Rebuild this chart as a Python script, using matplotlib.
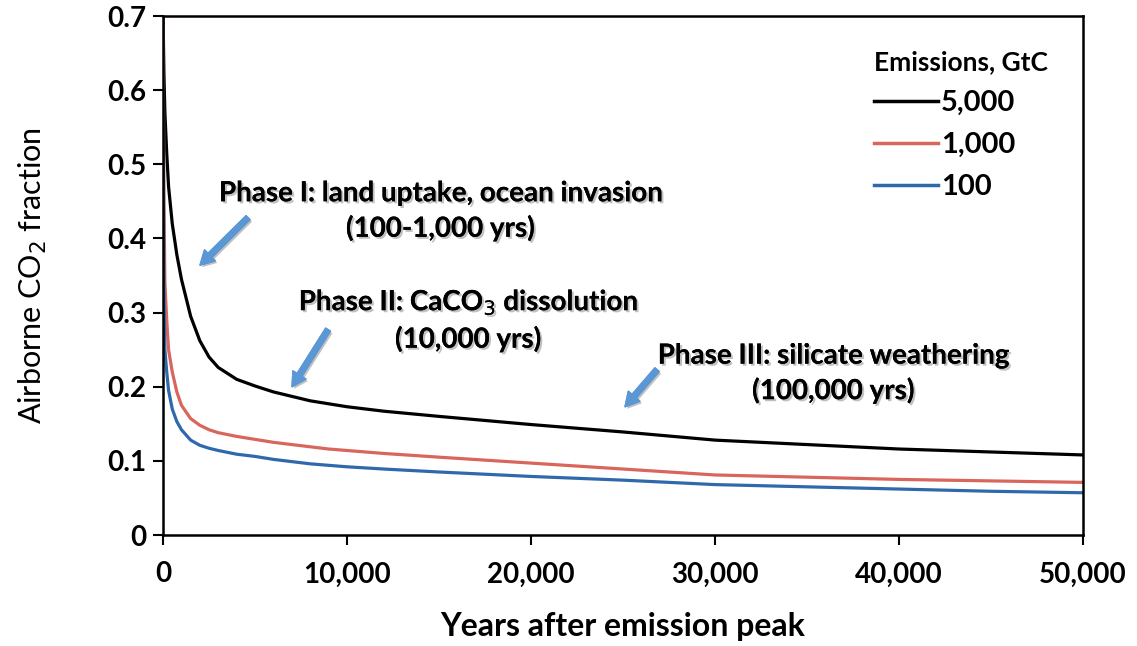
import matplotlib.pyplot as plt
import matplotlib.patheffects as pe

# Airborne fraction of emitted CO2 over time, for three emission totals
years = [0, 50, 100, 200, 300, 500, 750, 1000, 1500, 2000, 2500, 3000, 4000,
         5000, 6000, 7000, 8000, 9000, 10000, 12000, 15000, 20000, 25000,
         30000, 35000, 40000, 45000, 50000]
frac_5000 = [0.70, 0.62, 0.57, 0.515, 0.47, 0.42, 0.378, 0.345, 0.295, 0.262,
             0.240, 0.226, 0.210, 0.201, 0.193, 0.187, 0.181, 0.177, 0.173,
             0.167, 0.160, 0.149, 0.139, 0.128, 0.122, 0.116, 0.112, 0.108]
frac_1000 = [0.70, 0.45, 0.34, 0.29, 0.25, 0.22, 0.193, 0.175, 0.157, 0.148,
             0.142, 0.138, 0.133, 0.129, 0.125, 0.122, 0.119, 0.116, 0.114,
             0.110, 0.105, 0.097, 0.089, 0.081, 0.078, 0.075, 0.073, 0.071]
frac_100 = [0.60, 0.32, 0.25, 0.22, 0.195, 0.17, 0.153, 0.142, 0.128, 0.121,
            0.117, 0.114, 0.109, 0.106, 0.102, 0.099, 0.096, 0.094, 0.092,
            0.089, 0.085, 0.079, 0.074, 0.068, 0.065, 0.062, 0.059, 0.057]
series_labels = ['5,000', '1,000', '100']

xticks = [0, 10000, 20000, 30000, 40000, 50000]
xtick_labels = ['0', '10,000', '20,000', '30,000', '40,000', '50,000']
yticks = [0, 0.1, 0.2, 0.3, 0.4, 0.5, 0.6, 0.7]
ytick_labels = ['0', '0.1', '0.2', '0.3', '0.4', '0.5', '0.6', '0.7']

plt.rcParams['font.family'] = ['Lato', 'DejaVu Sans']

fig = plt.figure(figsize=(11.37, 6.46), dpi=100)
ax = fig.add_axes([0.1434, 0.1718, 0.8091, 0.8034])

colors = ['black', '#d9665c', '#2f69ab']
for vals, lab, c in zip([frac_5000, frac_1000, frac_100], series_labels, colors):
    ax.plot(years, vals, color=c, lw=2.3, label=lab)

ax.set_xlim(0, 50000)
ax.set_ylim(0, 0.7)
ax.set_xticks(xticks)
ax.set_xticklabels(xtick_labels, fontsize=20, fontweight='bold')
ax.set_yticks(yticks)
ax.set_yticklabels(ytick_labels, fontsize=20, fontweight='bold')
ax.tick_params(axis='x', direction='out', length=7, width=1.5, pad=12)
ax.tick_params(axis='y', direction='out', length=7, width=1.5, pad=5)
for s in ax.spines.values():
    s.set_linewidth(1.8)

ax.set_xlabel('Years after emission peak', fontsize=23, fontweight='bold',
              labelpad=18)
ax.set_ylabel('Airborne CO$_2$ fraction', fontsize=22, labelpad=42)

leg = ax.legend(title='Emissions, GtC', loc='upper right',
                bbox_to_anchor=(0.99, 0.985), frameon=False,
                prop={'size': 21, 'weight': 'bold'},
                title_fontproperties={'size': 19, 'weight': 'bold'},
                handlelength=2.2, handletextpad=0.1, labelspacing=0.55)
leg._legend_box.align = 'left'
for h in leg.legend_handles:
    h.set_linewidth(2.5)

shadow = [pe.withSimplePatchShadow(offset=(1.5, -1.5), shadow_rgbFace='#777777',
                                   alpha=0.45), pe.Normal()]
arrow_color = '#5b97d4'

# phase annotations with arrows pointing at the curves
phases = [
    ('Phase I: land uptake, ocean invasion\n(100-1,000 yrs)', (15100, 0.437), (2010, 0.364), (4620, 0.428)),
    ('Phase II: CaCO$_3$ dissolution\n(10,000 yrs)', (16600, 0.290), (7011, 0.200), (8967, 0.277)),
    ('Phase III: silicate weathering\n(100,000 yrs)', (36450, 0.218), (25109, 0.173), (26848, 0.223)),
]
for txt, pos, head, tail in phases:
    ax.text(pos[0], pos[1], txt, ha='center', va='center', fontsize=20,
            fontweight='bold', linespacing=1.35, path_effects=shadow)
    ax.annotate('', xy=head, xytext=tail,
                arrowprops=dict(arrowstyle='simple,head_length=1.0,head_width=1.1,tail_width=0.4',
                                color=arrow_color, shrinkA=0, shrinkB=0,
                                path_effects=shadow))

fig.savefig('out.png', dpi=100)
